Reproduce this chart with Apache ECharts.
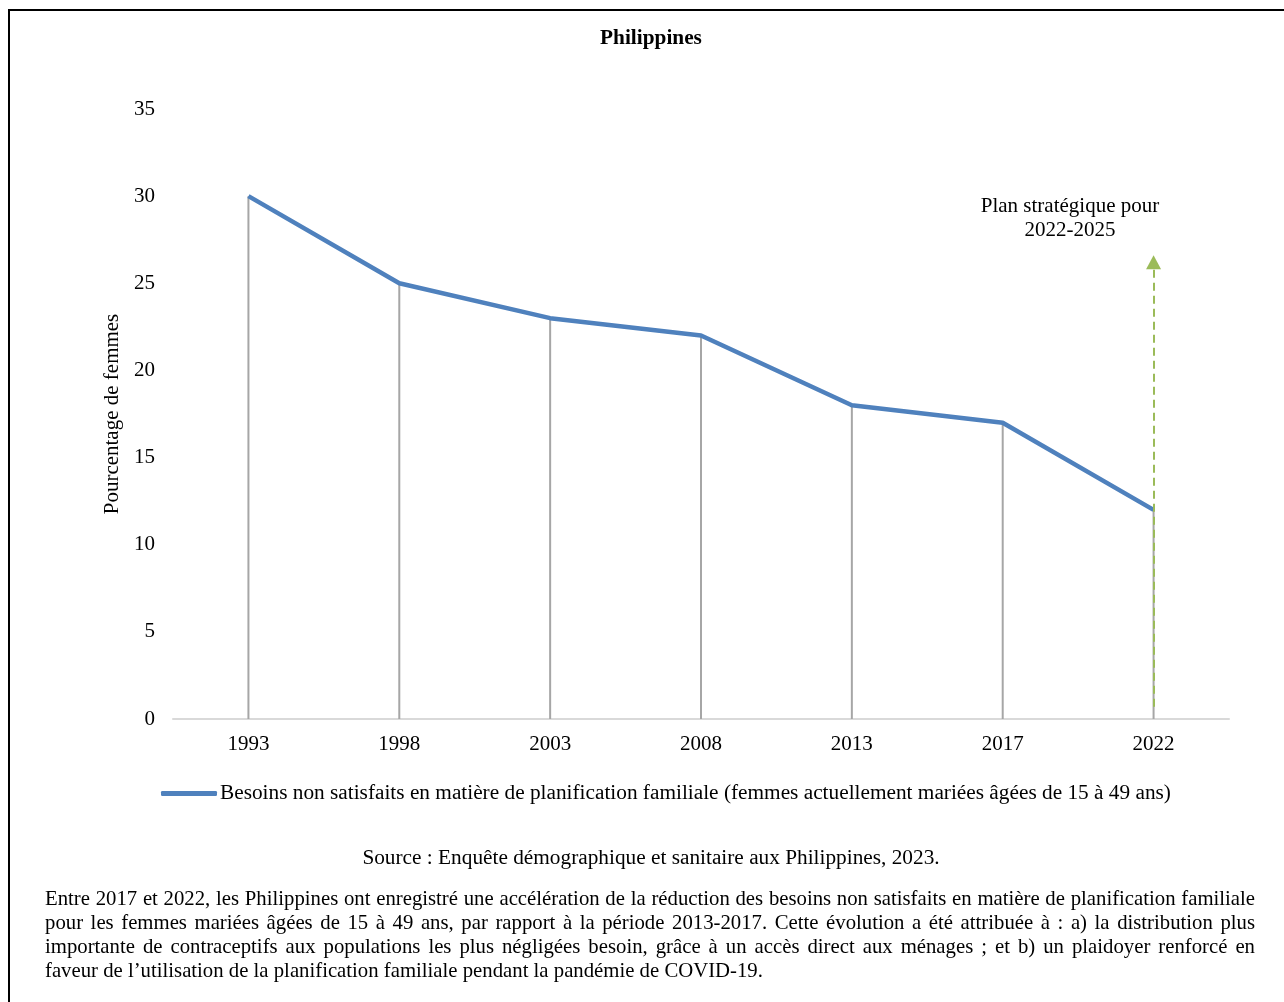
<!DOCTYPE html>
<html><head><meta charset="utf-8">
<script src="https://cdn.jsdelivr.net/npm/echarts@6/dist/echarts.min.js"></script>
<style>
html,body{margin:0;padding:0;background:#fff;width:1284px;height:1002px;overflow:hidden;}
#frame{position:absolute;left:8px;top:9px;width:1300px;height:1100px;border-left:2px solid #000;border-top:2px solid #000;}
#chart{position:absolute;left:0;top:0;width:1284px;height:1002px;}
#para{position:absolute;left:45px;top:886px;width:1210px;font-family:"Liberation Serif",serif;font-size:20.75px;line-height:24px;text-align:justify;color:#000;}
</style></head>
<body>
<div id="frame"></div>
<div id="chart"></div>
<div id="para">Entre 2017 et 2022, les Philippines ont enregistré une accélération de la réduction des besoins non satisfaits en matière de planification familiale pour les femmes mariées âgées de 15 à 49 ans, par rapport à la période 2013-2017. Cette évolution a été attribuée à : a) la distribution plus importante de contraceptifs aux populations les plus négligées besoin, grâce à un accès direct aux ménages ; et b) un plaidoyer renforcé en faveur&nbsp;de l’utilisation de la planification familiale pendant la pandémie de COVID-19.</div>
<script>
const years = ['1993','1998','2003','2008','2013','2017','2022'];
const unmetNeed = [30, 25, 23, 22, 18, 17, 12];
const yTicks = [0, 5, 10, 15, 20, 25, 30, 35];
const seriesName = 'Besoins non satisfaits en matière de planification familiale (femmes actuellement mariées âgées de 15 à 49 ans)';
const planYear = '2022';
const planArrowFrom = 0.7;
const planArrowTo = 26.2;
const planLabel = 'Plan stratégique pour\n2022-2025';
const titleText = 'Philippines';
const yAxisName = 'Pourcentage de femmes';
const sourceText = 'Source : Enquête démographique et sanitaire aux Philippines, 2023.';

const FONT = '"Liberation Serif", "Times New Roman", serif';
const FS = 21;
const FS2 = 21.3;
const chart = echarts.init(document.getElementById('chart'), null, {renderer:'canvas'});
chart.setOption({
  animation:false,
  backgroundColor:'transparent',
  textStyle:{fontFamily:FONT,color:'#000'},
  title:{text:titleText,left:646,textAlign:'center',top:23,textStyle:{fontFamily:FONT,fontSize:FS2,fontWeight:'bold',color:'#000'}},
  grid:{left:173,right:55,top:109,bottom:283,containLabel:false},
  legend:{
    left:161,top:783,padding:0,itemWidth:56,itemHeight:5,itemGap:0,icon:'roundRect',
    data:[{name:seriesName}],
    textStyle:{fontFamily:FONT,fontSize:FS2,color:'#000',padding:[0,0,0,-2]}
  },
  xAxis:{
    type:'category',data:years,boundaryGap:true,
    axisLine:{lineStyle:{color:'#d9d9d9',width:2}},
    axisTick:{show:false},
    axisLabel:{fontFamily:FONT,fontSize:FS,color:'#000',margin:15}
  },
  yAxis:{
    type:'value',min:yTicks[0],max:yTicks[yTicks.length-1],interval:5,
    name:yAxisName,nameLocation:'middle',nameGap:47,nameRotate:90,
    nameTextStyle:{fontFamily:FONT,fontSize:FS,color:'#000'},
    axisLine:{show:false},axisTick:{show:false},splitLine:{show:false},
    axisLabel:{fontFamily:FONT,fontSize:FS,color:'#000',margin:18}
  },
  series:[
    {
      type:'bar',name:'drop',data:unmetNeed,barWidth:2,
      itemStyle:{color:'#a6a6a6'},silent:true,legendHoverLink:false,z:1
    },
    {
      type:'line',name:seriesName,data:unmetNeed,symbol:'none',
      lineStyle:{color:'#4f81bd',width:4.5},itemStyle:{color:'#4f81bd'},z:3,
      markLine:{
        silent:true,symbol:['none','triangle'],symbolSize:[15,14],
        label:{show:false},
        lineStyle:{color:'#9bbb59',width:2,type:[8,5]},
        data:[[{coord:[planYear,planArrowFrom]},{coord:[planYear,planArrowTo]}]]
      }
    }
  ],
  graphic:[
    {type:'text',x:1070,y:194,style:{text:planLabel,font:FS+'px '+FONT,fill:'#000',textAlign:'center',lineHeight:24}},
    {type:'text',x:651,y:848,style:{text:sourceText,font:FS2+'px '+FONT,fill:'#000',textAlign:'center'}}
  ]
});
</script>
</body></html>
